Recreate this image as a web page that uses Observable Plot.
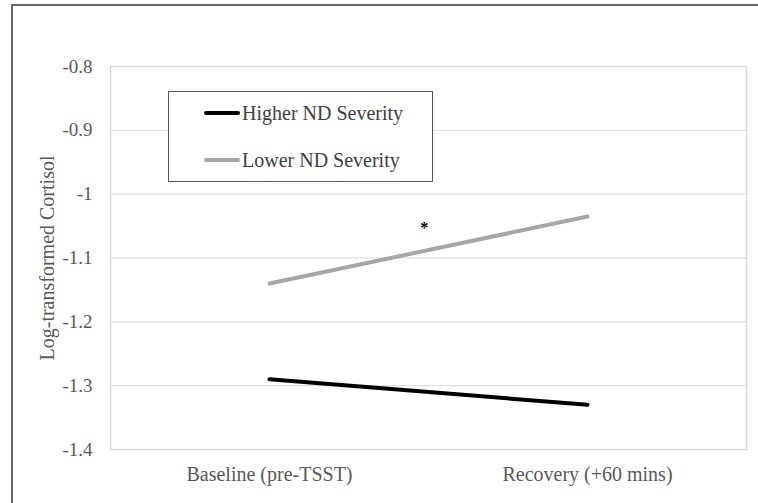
<!DOCTYPE html>
<html>
<head>
<meta charset="utf-8">
<script src="https://cdn.jsdelivr.net/npm/d3@7"></script>
<script src="https://cdn.jsdelivr.net/npm/@observablehq/plot@0.6"></script>
<style>
  html, body { margin: 0; padding: 0; background: #fff; overflow: hidden; }
  #wrap { position: relative; width: 758px; height: 503px; font-family: "Liberation Serif", Tinos, "Times New Roman", Times, "DejaVu Serif", serif; }
  #border { position: absolute; left: 11px; top: 4px; width: 800px; height: 600px; border-left: 2px solid #666; border-top: 2px solid #666; box-sizing: border-box; }
  #chart { position: absolute; left: 0; top: 0; }
  #legend { position: absolute; left: 168px; top: 91px; width: 265px; height: 91px; border: 1px solid #595959; background: #fff; box-sizing: border-box; }
  .item { position: absolute; left: 35px; height: 20px; display: flex; align-items: center; font-size: 20px; color: #404040; }
  .swatch { width: 36px; height: 4px; border-radius: 2px; margin-right: 2px; }
</style>
</head>
<body>
<div id="wrap">
  <div id="border"></div>
  <div id="chart"></div>
  <div id="legend"></div>
</div>
<script>
// Data
const timepoints = ["Baseline (pre-TSST)", "Recovery (+60 mins)"];
const seriesNames = ["Higher ND Severity", "Lower ND Severity"];
const seriesColors = ["#000000", "#a6a6a6"];
const higherValues = [-1.29, -1.33];
const lowerValues = [-1.14, -1.035];
const yTicks = [-0.8, -0.9, -1, -1.1, -1.2, -1.3, -1.4];
const significance = [{pos: 0.487, value: -1.053, label: "*"}];

const FONT = "'Liberation Serif', Tinos, 'Times New Roman', Times, 'DejaVu Serif', serif";

const rows = [];
timepoints.forEach((t, i) => {
  rows.push({series: seriesNames[0], pos: i, value: higherValues[i]});
  rows.push({series: seriesNames[1], pos: i, value: lowerValues[i]});
});

const chart = Plot.plot({
  width: 758,
  height: 503,
  marginLeft: 110,
  marginRight: 12,
  marginTop: 66,
  marginBottom: 54,
  style: {fontFamily: FONT, fontSize: "19px", background: "transparent", color: "#595959"},
  x: {domain: [-0.5, 1.5], axis: null},
  y: {domain: [-1.4, -0.8], axis: null},
  color: {domain: seriesNames, range: seriesColors},
  marks: [
    Plot.ruleY(yTicks, {stroke: "#d9d9d9", strokeWidth: 1}),
    Plot.frame({stroke: "#d9d9d9", strokeWidth: 1.5}),
    Plot.axisY({ticks: yTicks, tickSize: 0, tickPadding: 18, tickFormat: d => String(+d.toFixed(1)).replace("\u2212", "-"), fontSize: 19, fontFamily: FONT, color: "#595959", label: null}),
    Plot.axisY({ticks: [], tickSize: 0, label: "Log-transformed Cortisol", labelAnchor: "center", labelArrow: "none", labelOffset: 71, fontSize: 20, fontFamily: FONT, color: "#595959"}),
    Plot.axisX({ticks: timepoints.map((_, i) => i), tickFormat: i => timepoints[i], tickSize: 0, tickPadding: 17, label: null, fontSize: 20, fontFamily: FONT, color: "#595959"}),
    Plot.line(rows, {x: "pos", y: "value", z: "series", stroke: "series", strokeWidth: 4, strokeLinecap: "round"}),
    Plot.text(significance, {x: "pos", y: "value", text: "label", fill: "#000", fontSize: 16, fontWeight: "bold", fontFamily: FONT})
  ]
});
document.getElementById("chart").appendChild(chart);

const legend = document.getElementById("legend");
const centers = [21, 68];
seriesNames.forEach((name, i) => {
  const item = document.createElement("div");
  item.className = "item";
  item.style.top = (centers[i] - 10) + "px";
  const sw = document.createElement("div");
  sw.className = "swatch";
  sw.style.background = seriesColors[i];
  const tx = document.createElement("span");
  tx.textContent = name;
  item.appendChild(sw);
  item.appendChild(tx);
  legend.appendChild(item);
});
</script>
</body>
</html>
